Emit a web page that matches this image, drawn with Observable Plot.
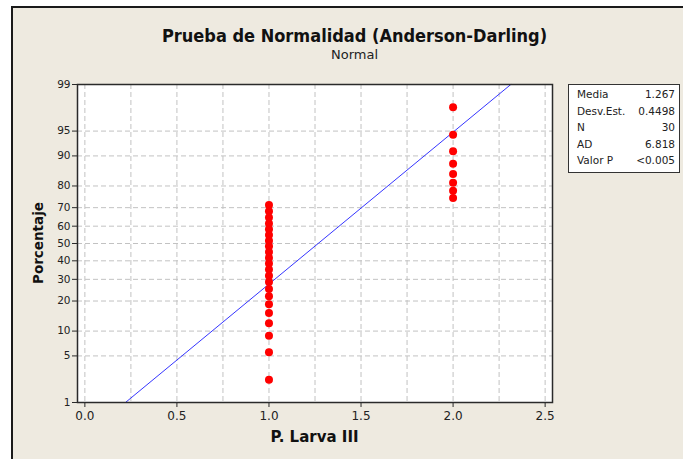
<!DOCTYPE html>
<html>
<head>
<meta charset="utf-8">
<script src="https://cdn.jsdelivr.net/npm/d3@7"></script>
<script src="https://cdn.jsdelivr.net/npm/@observablehq/plot@0.6"></script>
<style>
  html, body { margin: 0; padding: 0; background: #ffffff; }
  #wrap { position: relative; width: 683px; height: 459px; overflow: hidden; }
  #panel { position: absolute; left: 11px; top: 6px; right: 0; bottom: 0;
           background: #eeeae0; border-left: 2px solid #1a1a1a; border-top: 2px solid #1a1a1a; }
  .title { position: absolute; left: 13px; width: 683px; text-align: center;
           font-family: "DejaVu Sans", sans-serif; color: #111; }
  #t1 { top: 25px; font-size: 18px; font-weight: bold; font-family: "DejaVu Sans Condensed", "DejaVu Sans", sans-serif; }
  #t2 { top: 47px; font-size: 13px; color: #222; }
  #plot { position: absolute; left: 0; top: 0; }
  #stats { position: absolute; left: 568px; top: 84px; width: 110px; height: 87px;
           background: #fff; border: 1px solid #333;
           font-family: "DejaVu Sans", sans-serif; font-size: 10.5px; color: #222; }
  #stats .row { position: absolute; left: 8px; right: 4px; height: 14px; }
  #stats .row span.v { position: absolute; right: 0; }
  .axlab { position: absolute; font-family: "DejaVu Sans", sans-serif; font-weight: bold; color: #111; }
  #xl { left: 77px; width: 475px; text-align: center; top: 428px; font-size: 15px; }
  #yl { left: 38px; top: 243px; transform: translate(-50%, -50%) rotate(-90deg); white-space: nowrap; font-size: 13.5px; }
</style>
</head>
<body>
<div id="wrap">
  <div id="panel"></div>
  <div class="title" id="t1">Prueba de Normalidad (Anderson-Darling)</div>
  <div class="title" id="t2">Normal</div>
  <div id="plot"></div>
  <div id="stats"></div>
  <div class="axlab" id="xl">P. Larva III</div>
  <div class="axlab" id="yl">Porcentaje</div>
</div>
<script>
// ---- data ----
const xValues = [1,1,1,1,1,1,1,1,1,1,1,1,1,1,1,1,1,1,1,1,1,1,2,2,2,2,2,2,2,2];
const percents = [2.303,5.592,8.882,12.171,15.461,18.750,22.039,25.329,28.618,31.908,
                  35.197,38.487,41.776,45.066,48.355,51.645,54.934,58.224,61.513,64.803,
                  68.092,71.382,74.671,77.961,81.250,84.539,87.829,91.118,94.408,97.697];
const statLabels = ["Media", "Desv.Est.", "N", "AD", "Valor P"];
const statValues = ["1.267", "0.4498", "30", "6.818", "<0.005"];
const fitMean = 1.267;
const fitSd = 0.4498;
const yTickLabels = [1, 5, 10, 20, 30, 40, 50, 60, 70, 80, 90, 95, 99];
const xTickValues = [0, 0.5, 1.0, 1.5, 2.0, 2.5];
const xGridValues = [0, 0.25, 0.5, 0.75, 1.0, 1.25, 1.5, 1.75, 2.0, 2.25, 2.5];

// inverse standard normal CDF (Acklam)
function probit(p) {
  const a = [-3.969683028665376e+01, 2.209460984245205e+02, -2.759285104469687e+02, 1.383577518672690e+02, -3.066479806614716e+01, 2.506628277459239e+00];
  const b = [-5.447609879822406e+01, 1.615858368580409e+02, -1.556989798598866e+02, 6.680131188771972e+01, -1.328068155288572e+01];
  const c = [-7.784894002430293e-03, -3.223964580411365e-01, -2.400758277161838e+00, -2.549732539343734e+00, 4.374664141464968e+00, 2.938163982698783e+00];
  const d = [7.784695709041462e-03, 3.224671290700398e-01, 2.445134137142996e+00, 3.754408661907416e+00];
  const pl = 0.02425, ph = 1 - pl;
  let q, r;
  if (p < pl) {
    q = Math.sqrt(-2 * Math.log(p));
    return (((((c[0]*q+c[1])*q+c[2])*q+c[3])*q+c[4])*q+c[5]) / ((((d[0]*q+d[1])*q+d[2])*q+d[3])*q+1);
  } else if (p <= ph) {
    q = p - 0.5; r = q * q;
    return (((((a[0]*r+a[1])*r+a[2])*r+a[3])*r+a[4])*r+a[5])*q / (((((b[0]*r+b[1])*r+b[2])*r+b[3])*r+b[4])*r+1);
  } else {
    q = Math.sqrt(-2 * Math.log(1 - p));
    return -(((((c[0]*q+c[1])*q+c[2])*q+c[3])*q+c[4])*q+c[5]) / ((((d[0]*q+d[1])*q+d[2])*q+d[3])*q+1);
  }
}

const points = xValues.map((x, i) => ({x, z: probit(percents[i] / 100)}));
const zMin = probit(0.01), zMax = probit(0.99);
const fit = [zMin, zMax].map(z => ({z, x: fitMean + fitSd * z}));
const yTicks = yTickLabels.map(p => probit(p / 100));
const yLabelMap = new Map(yTicks.map((z, i) => [z, String(yTickLabels[i])]));

const grid = "#c2c2c2";
const chart = Plot.plot({
  width: 683,
  height: 459,
  marginLeft: 77,
  marginRight: 131,
  marginTop: 84,
  marginBottom: 57,
  style: {background: "transparent", fontFamily: "DejaVu Sans, sans-serif", color: "#222"},
  x: {domain: [-0.04, 2.54]},
  y: {domain: [zMin, zMax]},
  marks: [
    Plot.frame({fill: "#ffffff", stroke: "none"}),
    Plot.ruleX(xGridValues, {stroke: grid, strokeWidth: 1, strokeDasharray: "5,3"}),
    Plot.ruleY(yTicks, {stroke: grid, strokeWidth: 1, strokeDasharray: "5,3"}),
    Plot.line(fit, {x: "x", y: "z", stroke: "#3535ff", strokeWidth: 1}),
    Plot.dot(points, {x: "x", y: "z", r: 4, fill: "#ff0000", stroke: "none"}),
    Plot.frame({stroke: "#2a2a2a", strokeWidth: 1.5}),
    Plot.axisX({ticks: xTickValues, tickFormat: d => d.toFixed(1), tickSize: 5, tickPadding: 4,
                label: null, fontSize: 12, stroke: "#2a2a2a"}),
    Plot.axisY({ticks: yTicks, tickFormat: d => yLabelMap.get(d), tickSize: 5, tickPadding: 2,
                label: null, fontSize: 10.5, stroke: "#2a2a2a"})
  ]
});
document.getElementById("plot").appendChild(chart);

const stats = document.getElementById("stats");
statLabels.forEach((lab, i) => {
  const row = document.createElement("div");
  row.className = "row";
  row.style.top = (3 + i * 16.6) + "px";
  row.innerHTML = `<span>${lab}</span><span class="v">${statValues[i].replace("<", "&lt;")}</span>`;
  stats.appendChild(row);
});
</script>
</body>
</html>
